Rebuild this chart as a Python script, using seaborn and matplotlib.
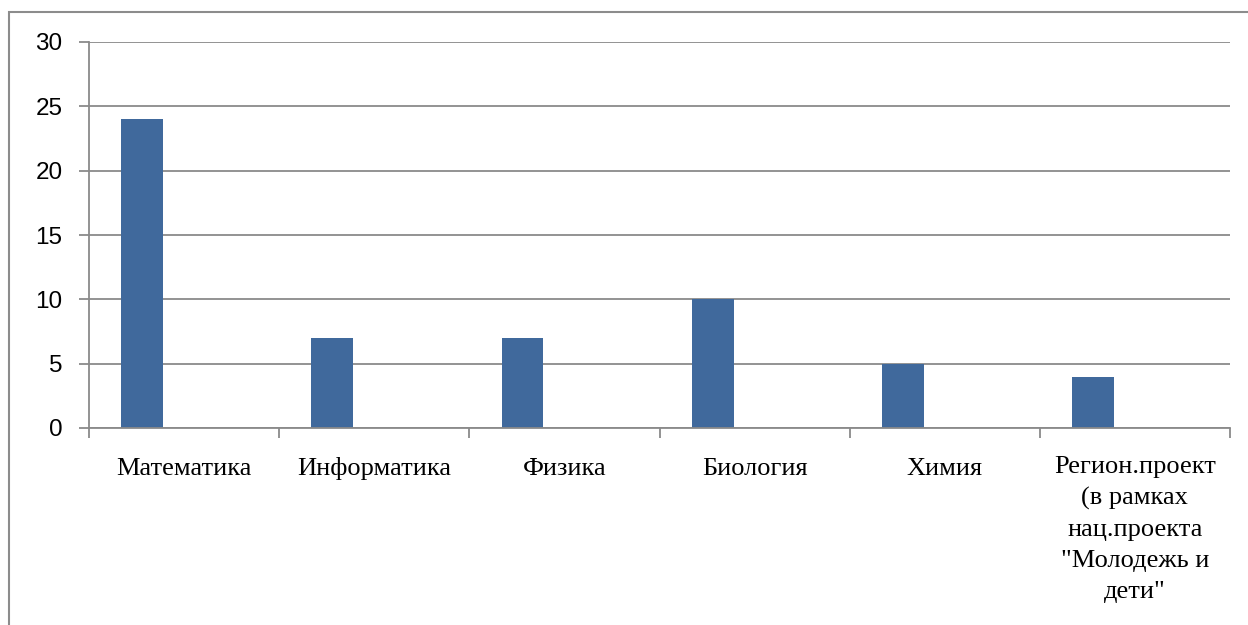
import numpy as np
import pandas as pd
import matplotlib
matplotlib.use("Agg")
import matplotlib.pyplot as plt
from matplotlib.patches import Rectangle
from matplotlib.ticker import FixedLocator
from matplotlib.transforms import ScaledTranslation
import seaborn as sns

# ── data ────────────────────────────────────────────────
categories = [
    "Математика",
    "Информатика",
    "Физика",
    "Биология",
    "Химия",
    "Регион.проект\n(в рамках\nнац.проекта\n\"Молодежь и\nдети\"",
]
values = [24, 7, 7, 10, 5, 4]
# Excel-style layout: the chart reserves room for three series, only the first has data
series_names = ["Ряд 1", "Ряд 2", "Ряд 3"]
empty_values = [0, 0, 0, 0, 0, 0]
y_ticks = [0, 5, 10, 15, 20, 25, 30]

BAR_COLOR = "#40699C"
GRID_COLOR = "#8A8A8A"

df = pd.DataFrame({
    "category": categories * 3,
    "value": values + empty_values + empty_values,
    "series": [series_names[0]] * 6 + [series_names[1]] * 6 + [series_names[2]] * 6,
})

sns.set_theme(style="white")
plt.rcParams["font.family"] = ["Liberation Sans", "DejaVu Sans"]

fig = plt.figure(figsize=(12.48, 6.25), dpi=100)
ax = fig.add_axes([89 / 1248, 1 - 428 / 625, (1230 - 89) / 1248, (428 - 42) / 625])

sns.barplot(
    data=df, x="category", y="value", hue="series",
    hue_order=series_names, order=categories,
    palette=[BAR_COLOR, BAR_COLOR, BAR_COLOR],
    width=0.66, dodge=True, saturation=1, linewidth=0,
    legend=False, ax=ax,
)

ax.set_xlim(-0.5, len(categories) - 0.5)
ax.set_ylim(0, 30)
ax.set_yticks(y_ticks)
ax.set_yticklabels([str(t) for t in y_ticks], fontsize=17.5, color="black")
ax.set_xlabel("")
ax.set_ylabel("")

# horizontal grid
ax.yaxis.grid(True, color=GRID_COLOR, linewidth=1.3)
ax.set_axisbelow(True)

# category labels centred (first-line baselines aligned), ticks at category boundaries
ax.set_xticks(range(len(categories)))
ax.set_xticklabels(categories, fontsize=19, family=["Liberation Serif", "DejaVu Serif"],
                   linespacing=1.52, va="baseline", ha="center", color="black")
ax.tick_params(axis="x", which="major", length=0, pad=34)
for lbl in ax.get_xticklabels():
    if "\n" in lbl.get_text():
        # baseline alignment uses the last line, so hang this one from the top instead
        lbl.set_va("top")
        lbl.set_transform(lbl.get_transform() + ScaledTranslation(0, 14 / 72, fig.dpi_scale_trans))
ax.xaxis.set_minor_locator(FixedLocator(np.arange(-0.5, len(categories), 1.0)))
ax.tick_params(axis="x", which="minor", length=7, width=1.3, color=GRID_COLOR, direction="out", bottom=True)
ax.tick_params(axis="y", length=7, width=1.3, color=GRID_COLOR, direction="out", left=True, pad=12)

for side in ["top", "right"]:
    ax.spines[side].set_visible(False)
for side in ["left", "bottom"]:
    ax.spines[side].set_color(GRID_COLOR)
    ax.spines[side].set_linewidth(1.3)

# outer chart border
fig.patches.append(Rectangle((9 / 1248, -0.05), 1.2, 1.05 - 12 / 625,
                             transform=fig.transFigure, fill=False,
                             edgecolor="#8C8C8C", linewidth=1.5))

fig.savefig("out.png", dpi=100)
